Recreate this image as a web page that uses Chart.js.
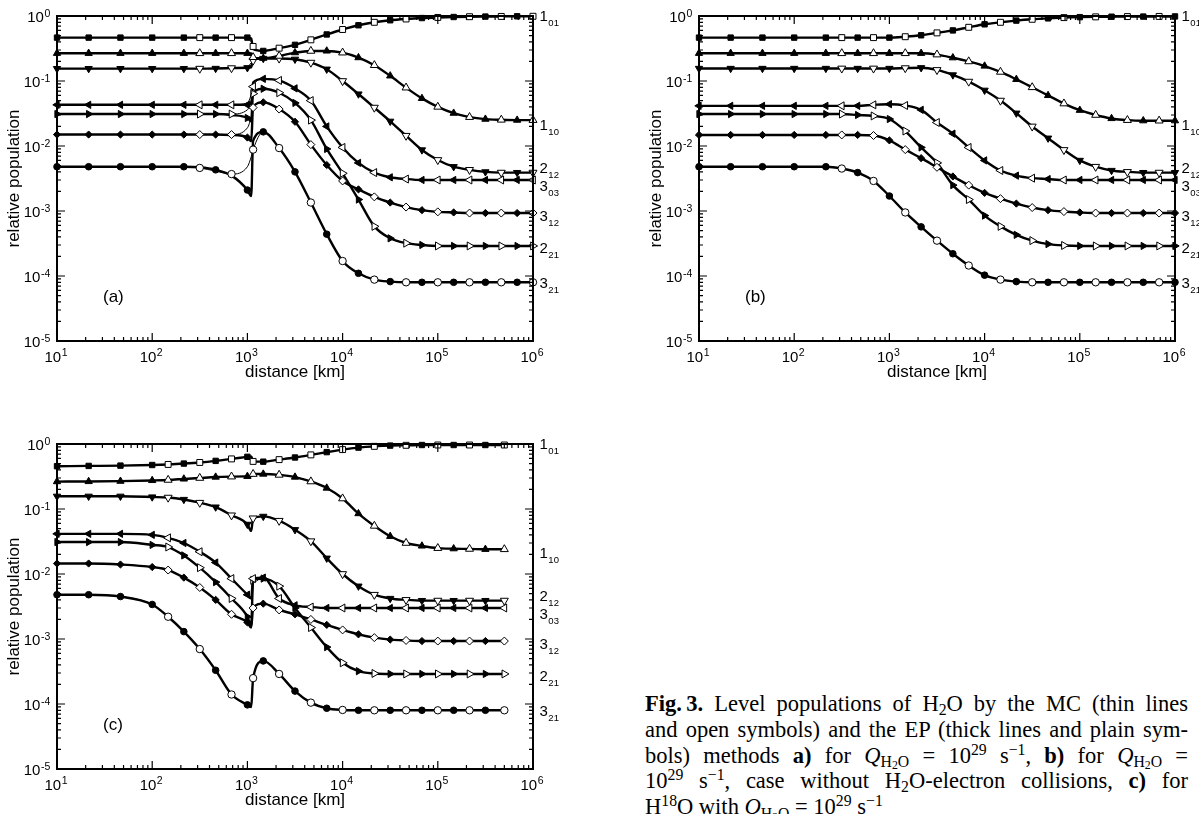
<!DOCTYPE html>
<html>
<head>
<meta charset="utf-8">
<script src="https://cdn.jsdelivr.net/npm/chart.js@4.4.1/dist/chart.umd.min.js"></script>
<style>
  html, body { margin: 0; padding: 0; background: #fff; }
  body { width: 1199px; height: 814px; overflow: hidden; position: relative; }
  canvas { position: absolute; }
  #cap { position: absolute; left: 645px; top: 691px; width: 543px;
         font-family: "Liberation Serif", "Times New Roman", serif; font-size: 22.5px; color: #000; }
  #cap div { height: 25.8px; line-height: 25.8px; text-align: justify; text-align-last: justify; }
  #cap div.last { text-align: left; text-align-last: left; }
  #cap sub { font-size: 0.7em; vertical-align: -0.28em; line-height: 0; }
  #cap sub sub { font-size: 0.75em; vertical-align: -0.2em; }
  #cap sup { font-size: 0.7em; vertical-align: 0.5em; line-height: 0; }
</style>
</head>
<body>
<canvas id="pa" width="600" height="400" style="left:0px;top:0px"></canvas>
<canvas id="pb" width="557" height="400" style="left:642px;top:0px"></canvas>
<canvas id="pc" width="600" height="386" style="left:0px;top:428px"></canvas>
<div id="cap">
  <div><b>Fig.&#8201;3.</b> Level populations of H<sub>2</sub>O by the MC (thin lines</div>
  <div>and open symbols) and the EP (thick lines and plain sym-</div>
  <div>bols) methods <b>a)</b> for <i>Q</i><sub>H<sub>2</sub>O</sub> = 10<sup>29</sup> s<sup>&minus;1</sup>, <b>b)</b> for <i>Q</i><sub>H<sub>2</sub>O</sub> =</div>
  <div>10<sup>29</sup> s<sup>&minus;1</sup>, case without H<sub>2</sub>O-electron collisions, <b>c)</b> for</div>
  <div class="last">H<sup>18</sup>O with <i>Q</i><sub>H<sub>2</sub>O</sub> = 10<sup>29</sup> s<sup>&minus;1</sup></div>
</div>
<script>
// ---- rotational levels (order used by every series block below) ----
const levelMain = ['1', '1', '2', '3', '3', '2', '3'];
const levelSub  = ['01', '10', '12', '03', '12', '21', '21'];
const levelLabelY = [1.0, 0.0215, 4.6e-3, 2.5e-3, 8.5e-4, 2.7e-4, 8.0e-5];

// axis decades (exponents of ten)
const xDecades = [1, 2, 3, 4, 5, 6];
const yDecades = [-5, -4, -3, -2, -1, 0];

// ---- panel (a): Q = 1e29 s^-1 ----
const distA = [10, 21.5, 46.4, 100, 215, 316, 464, 681, 1000, 1096, 1148, 1468, 2154, 3162, 4642, 6813,
  10000, 14678, 21544, 31623, 46416, 68129, 100000, 146780, 215443, 316228, 464159, 681292, 1000000];
const ep101A = [0.465, 0.465, 0.465, 0.465, 0.465, 0.465, 0.465, 0.465, 0.465, 0.45, 0.31, 0.29, 0.32, 0.36, 0.43, 0.52,
  0.62, 0.72, 0.80, 0.86, 0.90, 0.93, 0.95, 0.965, 0.975, 0.98, 0.985, 0.99, 0.99];
const ep110A = [0.267, 0.267, 0.267, 0.267, 0.267, 0.267, 0.267, 0.267, 0.267, 0.265, 0.226, 0.224, 0.243, 0.273, 0.29, 0.29,
  0.273, 0.229, 0.175, 0.12, 0.079, 0.054, 0.040, 0.032, 0.0278, 0.0259, 0.0253, 0.025, 0.025];
const ep212A = [0.155, 0.155, 0.155, 0.155, 0.155, 0.155, 0.156, 0.158, 0.160, 0.162, 0.215, 0.222, 0.222, 0.216, 0.192, 0.152,
  0.100, 0.063, 0.039, 0.024, 0.0144, 0.0087, 0.0061, 0.0048, 0.0043, 0.0040, 0.0039, 0.0039, 0.0039];
const ep303A = [0.043, 0.043, 0.043, 0.043, 0.043, 0.043, 0.043, 0.043, 0.043, 0.044, 0.095, 0.108, 0.102, 0.077, 0.050, 0.020,
  0.0095, 0.0055, 0.0039, 0.0033, 0.0031, 0.0030, 0.0030, 0.0030, 0.0030, 0.0030, 0.0030, 0.0030, 0.0030];
const ep312A = [0.015, 0.015, 0.015, 0.015, 0.015, 0.015, 0.015, 0.0148, 0.0135, 0.0118, 0.040, 0.047, 0.037, 0.0236, 0.0105, 0.0051,
  0.0029, 0.00215, 0.00165, 0.00135, 0.00115, 0.00103, 0.00097, 0.00095, 0.00093, 0.00093, 0.00093, 0.00093, 0.00093];
const ep221A = [0.031, 0.031, 0.031, 0.031, 0.031, 0.031, 0.031, 0.030, 0.027, 0.024, 0.065, 0.076, 0.066, 0.046, 0.025, 0.009,
  0.0038, 0.0015, 5.8e-4, 3.8e-4, 3.2e-4, 3.0e-4, 2.9e-4, 2.9e-4, 2.9e-4, 2.9e-4, 2.9e-4, 2.9e-4, 2.9e-4];
const ep321A = [0.0048, 0.0048, 0.0048, 0.0048, 0.0048, 0.0047, 0.0043, 0.0035, 0.0021, 0.0017, 0.012, 0.0165, 0.0093, 0.0040, 0.00135, 4.4e-4,
  1.7e-4, 1.1e-4, 8.8e-5, 8.2e-5, 8.0e-5, 8.0e-5, 8.0e-5, 8.0e-5, 8.0e-5, 8.0e-5, 8.0e-5, 8.0e-5, 8.0e-5];

const mc101A = [0.465, 0.465, 0.465, 0.465, 0.465, 0.465, 0.465, 0.465, 0.45, 0.40, 0.34, 0.29, 0.32, 0.36, 0.43, 0.52,
  0.62, 0.72, 0.80, 0.86, 0.90, 0.93, 0.95, 0.965, 0.975, 0.98, 0.985, 0.99, 0.99];
const mc110A = [0.267, 0.267, 0.267, 0.267, 0.267, 0.267, 0.267, 0.267, 0.262, 0.245, 0.232, 0.224, 0.243, 0.273, 0.29, 0.29,
  0.273, 0.229, 0.175, 0.12, 0.079, 0.054, 0.040, 0.032, 0.0278, 0.0259, 0.0253, 0.025, 0.025];
const mc212A = [0.155, 0.155, 0.155, 0.155, 0.155, 0.155, 0.156, 0.158, 0.166, 0.19, 0.206, 0.222, 0.222, 0.216, 0.192, 0.152,
  0.100, 0.063, 0.039, 0.024, 0.0144, 0.0087, 0.0061, 0.0048, 0.0043, 0.0040, 0.0039, 0.0039, 0.0039];
const mc303A = [0.043, 0.043, 0.043, 0.043, 0.043, 0.043, 0.043, 0.043, 0.046, 0.062, 0.082, 0.108, 0.102, 0.077, 0.050, 0.020,
  0.0095, 0.0055, 0.0039, 0.0033, 0.0031, 0.0030, 0.0030, 0.0030, 0.0030, 0.0030, 0.0030, 0.0030, 0.0030];
const mc312A = [0.015, 0.015, 0.015, 0.015, 0.015, 0.015, 0.015, 0.015, 0.019, 0.028, 0.039, 0.047, 0.037, 0.0236, 0.0105, 0.0051,
  0.0029, 0.00215, 0.00165, 0.00135, 0.00115, 0.00103, 0.00097, 0.00095, 0.00093, 0.00093, 0.00093, 0.00093, 0.00093];
const mc221A = [0.031, 0.031, 0.031, 0.031, 0.031, 0.031, 0.031, 0.031, 0.036, 0.050, 0.064, 0.076, 0.066, 0.046, 0.025, 0.009,
  0.0038, 0.0015, 5.8e-4, 3.8e-4, 3.2e-4, 3.0e-4, 2.9e-4, 2.9e-4, 2.9e-4, 2.9e-4, 2.9e-4, 2.9e-4, 2.9e-4];
const mc321A = [0.0048, 0.0048, 0.0048, 0.0048, 0.0048, 0.0046, 0.0041, 0.0037, 0.0048, 0.0068, 0.0088, 0.0165, 0.0093, 0.0040, 0.00135, 4.4e-4,
  1.7e-4, 1.1e-4, 8.8e-5, 8.2e-5, 8.0e-5, 8.0e-5, 8.0e-5, 8.0e-5, 8.0e-5, 8.0e-5, 8.0e-5, 8.0e-5, 8.0e-5];

const epMarksA = [10, 21.5, 46.4, 100, 215, 464, 1000, 1468, 3162, 6813, 14678, 31623, 68129, 146780, 316228, 681292];
const mcMarksA = [316, 681, 1148, 2154, 4642, 10000, 21544, 46416, 100000, 215443, 464159, 1000000];

// ---- panel (b): no H2O-electron collisions ----
const distB = [10, 21.5, 46.4, 100, 215, 316, 464, 681, 1000, 1468, 2154, 3162, 4642, 6813,
  10000, 14678, 21544, 31623, 46416, 68129, 100000, 146780, 215443, 316228, 464159, 681292, 1000000];
const ep101B = [0.465, 0.465, 0.465, 0.465, 0.465, 0.465, 0.465, 0.465, 0.465, 0.48, 0.505, 0.55, 0.60, 0.67,
  0.745, 0.80, 0.85, 0.89, 0.92, 0.945, 0.96, 0.97, 0.975, 0.98, 0.98, 0.985, 0.985];
const ep110B = [0.267, 0.267, 0.267, 0.267, 0.267, 0.267, 0.267, 0.267, 0.267, 0.267, 0.267, 0.255, 0.228, 0.20,
  0.170, 0.138, 0.106, 0.080, 0.060, 0.045, 0.0355, 0.030, 0.0265, 0.025, 0.0245, 0.0245, 0.0245];
const ep212B = [0.156, 0.156, 0.156, 0.156, 0.156, 0.156, 0.156, 0.156, 0.156, 0.158, 0.160, 0.148, 0.124, 0.098,
  0.072, 0.050, 0.032, 0.020, 0.0132, 0.0087, 0.0060, 0.0048, 0.0042, 0.0040, 0.0039, 0.0039, 0.0039];
const ep303B = [0.0415, 0.0415, 0.0415, 0.0415, 0.0415, 0.0415, 0.0415, 0.043, 0.044, 0.042, 0.036, 0.023, 0.0155, 0.0095,
  0.0060, 0.0042, 0.0035, 0.0032, 0.0031, 0.0030, 0.0030, 0.0030, 0.0030, 0.0030, 0.0030, 0.0030, 0.0030];
const ep312B = [0.0148, 0.0148, 0.0148, 0.0148, 0.0148, 0.0148, 0.0148, 0.0145, 0.0122, 0.0088, 0.0065, 0.0047, 0.0034, 0.0025,
  0.0019, 0.00155, 0.0013, 0.00113, 0.00103, 0.00098, 0.00095, 0.00093, 0.00093, 0.00093, 0.00093, 0.00093, 0.00093];
const ep221B = [0.031, 0.031, 0.031, 0.031, 0.031, 0.031, 0.030, 0.029, 0.026, 0.017, 0.0095, 0.0055, 0.0025, 0.0015,
  8.5e-4, 5.8e-4, 4.3e-4, 3.5e-4, 3.1e-4, 2.95e-4, 2.9e-4, 2.9e-4, 2.9e-4, 2.9e-4, 2.9e-4, 2.9e-4, 2.9e-4];
const ep321B = [0.0048, 0.0048, 0.0048, 0.0048, 0.0048, 0.0045, 0.0039, 0.0029, 0.0017, 9.5e-4, 5.7e-4, 3.5e-4, 2.2e-4, 1.45e-4,
  1.03e-4, 8.8e-5, 8.2e-5, 8.0e-5, 8.0e-5, 8.0e-5, 8.0e-5, 8.0e-5, 8.0e-5, 8.0e-5, 8.0e-5, 8.0e-5, 8.0e-5];

const epMarksB = [10, 21.5, 46.4, 100, 215, 464, 1000, 2154, 4642, 10000, 21544, 46416, 100000, 215443, 464159, 1000000];
const mcMarksB = [316, 681, 1468, 3162, 6813, 14678, 31623, 68129, 146780, 316228, 681292];

// ---- panel (c): H2-18O ----
const distC = [10, 21.5, 46.4, 100, 147, 215, 316, 464, 681, 1000, 1096, 1148, 1468, 2154, 3162, 4642, 6813,
  10000, 14678, 21544, 31623, 46416, 68129, 100000, 146780, 215443, 316228, 500000];
const ep101C = [0.455, 0.46, 0.465, 0.475, 0.485, 0.50, 0.52, 0.55, 0.59, 0.635, 0.645, 0.54, 0.535, 0.575, 0.62, 0.68, 0.75,
  0.82, 0.88, 0.92, 0.945, 0.955, 0.965, 0.965, 0.965, 0.965, 0.965, 0.965];
const ep110C = [0.264, 0.265, 0.268, 0.275, 0.28, 0.29, 0.30, 0.31, 0.315, 0.318, 0.32, 0.345, 0.345, 0.335, 0.31, 0.265, 0.21,
  0.145, 0.085, 0.055, 0.038, 0.030, 0.027, 0.025, 0.0245, 0.0243, 0.024, 0.024];
const ep212C = [0.157, 0.157, 0.157, 0.153, 0.150, 0.140, 0.125, 0.107, 0.080, 0.058, 0.046, 0.072, 0.077, 0.066, 0.048, 0.032, 0.0175,
  0.0100, 0.0065, 0.0048, 0.0042, 0.0040, 0.0039, 0.0039, 0.0039, 0.0039, 0.0039, 0.0039];
const ep303C = [0.0415, 0.0415, 0.0415, 0.040, 0.036, 0.030, 0.022, 0.015, 0.0085, 0.0048, 0.0042, 0.0085, 0.0088, 0.0042, 0.0033, 0.0031, 0.0030,
  0.0030, 0.0030, 0.0030, 0.0030, 0.0030, 0.0030, 0.0030, 0.0030, 0.0030, 0.0030, 0.0030];
const ep312C = [0.0145, 0.0145, 0.014, 0.0128, 0.0115, 0.0088, 0.0062, 0.0040, 0.0024, 0.0018, 0.0015, 0.0030, 0.0035, 0.0028, 0.0024, 0.0020, 0.00165,
  0.00138, 0.00118, 0.00105, 0.00098, 0.00095, 0.00093, 0.00093, 0.00093, 0.00093, 0.00093, 0.00093];
const ep221C = [0.031, 0.031, 0.031, 0.028, 0.026, 0.0193, 0.0125, 0.0075, 0.0042, 0.0022, 0.0016, 0.0080, 0.0085, 0.0065, 0.0030, 0.0015, 7.5e-4,
  4.3e-4, 3.2e-4, 2.95e-4, 2.9e-4, 2.9e-4, 2.9e-4, 2.9e-4, 2.9e-4, 2.9e-4, 2.9e-4, 2.9e-4];
const ep321C = [0.0048, 0.0048, 0.0045, 0.0034, 0.0022, 0.0013, 7.0e-4, 3.3e-4, 1.4e-4, 9.7e-5, 9.0e-5, 2.5e-4, 4.6e-4, 2.9e-4, 1.58e-4, 1.05e-4, 8.6e-5,
  8.1e-5, 8.0e-5, 8.0e-5, 8.0e-5, 8.0e-5, 8.0e-5, 8.0e-5, 8.0e-5, 8.0e-5, 8.0e-5, 8.0e-5];

const epMarksC = [10, 21.5, 46.4, 100, 215, 464, 1000, 1468, 3162, 6813, 14678, 31623, 68129, 146780, 316228];
const mcMarksC = [147, 316, 681, 1148, 2154, 4642, 10000, 21544, 46416, 100000, 215443, 500000];

// ---- drawing ----
const SANS = '"Liberation Sans", Arial, Helvetica, sans-serif';
const INK = '#000';

// symbol per level: square, up/down/left triangle, diamond, right triangle, circle
const markStyle = [
  { s: 'rect', rot: 0, r: 3.8 },
  { s: 'triangle', rot: 0, r: 4.2 },
  { s: 'triangle', rot: 180, r: 4.2 },
  { s: 'triangle', rot: 270, r: 4.2 },
  { s: 'rectRot', rot: 0, r: 3.6 },
  { s: 'triangle', rot: 90, r: 4.2 },
  { s: 'circle', rot: 0, r: 3.3 }
];

function drawPow(ctx, exp, x, y, align) {
  ctx.font = '15px ' + SANS;
  const wb = ctx.measureText('10').width;
  ctx.font = '10.5px ' + SANS;
  const we = ctx.measureText(exp).width;
  const x0 = align === 'right' ? x - wb - we - 0.5 : x - (wb + we + 0.5) / 2;
  ctx.textAlign = 'left';
  ctx.textBaseline = 'alphabetic';
  ctx.font = '15px ' + SANS;
  ctx.fillText('10', x0, y);
  ctx.font = '10.5px ' + SANS;
  ctx.fillText(exp, x0 + wb + 0.5, y - 5.5);
}

const frameTicks = {
  id: 'frameTicks',
  afterDraw(chart, args, opts) {
    const { ctx, chartArea: a } = chart;
    const x = chart.scales.x, y = chart.scales.y;
    ctx.save();
    ctx.strokeStyle = INK;
    ctx.fillStyle = INK;

    // inward ticks on all four sides
    ctx.lineWidth = 1.2;
    ctx.beginPath();
    xDecades.forEach((e, i) => {
      const px = x.getPixelForValue(Math.pow(10, e));
      ctx.moveTo(px, a.bottom); ctx.lineTo(px, a.bottom - 8);
      ctx.moveTo(px, a.top); ctx.lineTo(px, a.top + 8);
      if (i < xDecades.length - 1) {
        for (let m = 2; m <= 9; m++) {
          const q = x.getPixelForValue(m * Math.pow(10, e));
          ctx.moveTo(q, a.bottom); ctx.lineTo(q, a.bottom - 4);
          ctx.moveTo(q, a.top); ctx.lineTo(q, a.top + 4);
        }
      }
    });
    yDecades.forEach((e, i) => {
      const py = y.getPixelForValue(Math.pow(10, e));
      ctx.moveTo(a.left, py); ctx.lineTo(a.left + 8, py);
      ctx.moveTo(a.right, py); ctx.lineTo(a.right - 8, py);
      if (i < yDecades.length - 1) {
        for (let m = 2; m <= 9; m++) {
          const q = y.getPixelForValue(m * Math.pow(10, e));
          ctx.moveTo(a.left, q); ctx.lineTo(a.left + 4, q);
          ctx.moveTo(a.right, q); ctx.lineTo(a.right - 4, q);
        }
      }
    });
    ctx.stroke();

    // frame
    ctx.lineWidth = 2;
    ctx.strokeRect(a.left, a.top, a.right - a.left, a.bottom - a.top);

    // tick labels
    xDecades.forEach(e => {
      drawPow(ctx, String(e), x.getPixelForValue(Math.pow(10, e)) - 1, a.bottom + 20.7, 'center');
    });
    yDecades.forEach(e => {
      drawPow(ctx, String(e), a.left - 6.7, y.getPixelForValue(Math.pow(10, e)) + 6, 'right');
    });

    // axis titles
    ctx.font = '17px ' + SANS;
    ctx.textAlign = 'center';
    ctx.textBaseline = 'alphabetic';
    ctx.fillText('distance [km]', (a.left + a.right) / 2, a.bottom + 36);
    ctx.save();
    ctx.translate(a.left - 43, (a.top + a.bottom) / 2);
    ctx.rotate(-Math.PI / 2);
    ctx.textBaseline = 'middle';
    ctx.fillText('relative population', 0, 0);
    ctx.restore();

    // panel tag
    ctx.font = '17px ' + SANS;
    ctx.textAlign = 'left';
    ctx.textBaseline = 'alphabetic';
    ctx.fillText(opts.tag, a.left + 46, a.top + 285.7);

    // level names at the right edge
    levelMain.forEach((m, k) => {
      const py = y.getPixelForValue(levelLabelY[k]);
      const lx = a.right + 6.5;
      ctx.font = '15px ' + SANS;
      ctx.fillText(m, lx, py + 5.4);
      const w = ctx.measureText(m).width;
      ctx.font = '9.5px ' + SANS;
      ctx.fillText(levelSub[k], lx + w + 0.5, py + 10.4);
    });
    ctx.restore();
  }
};

function buildSets(dist, epRows, mcRows, epMarks, mcMarks) {
  const sets = [];
  epRows.forEach((row, k) => {
    const st = markStyle[k];
    sets.push({
      data: row, order: 2, borderColor: INK, borderWidth: 2.4, fill: false,
      cubicInterpolationMode: 'monotone', clip: false,
      pointStyle: st.s, pointRotation: st.rot,
      pointRadius: c => (epMarks.includes(dist[c.dataIndex]) ? st.r : 0),
      pointHoverRadius: 0, pointHitRadius: 0,
      pointBackgroundColor: INK, pointBorderColor: INK, pointBorderWidth: 1
    });
  });
  mcRows.forEach((row, k) => {
    const st = markStyle[k];
    sets.push({
      data: row, order: 1, borderColor: INK, borderWidth: 1, fill: false,
      cubicInterpolationMode: 'monotone', clip: false,
      pointStyle: st.s, pointRotation: st.rot,
      pointRadius: c => (mcMarks.includes(dist[c.dataIndex]) ? st.r + 0.4 : 0),
      pointHoverRadius: 0, pointHitRadius: 0,
      pointBackgroundColor: '#fff', pointBorderColor: INK, pointBorderWidth: 1
    });
  });
  return sets;
}

function panel(id, tag, dist, epRows, mcRows, epMarks, mcMarks) {
  const cv = document.getElementById(id);
  return new Chart(cv, {
    type: 'line',
    data: { labels: dist, datasets: buildSets(dist, epRows, mcRows, epMarks, mcMarks) },
    options: {
      responsive: false, maintainAspectRatio: false, animation: false, devicePixelRatio: 1,
      events: [],
      layout: { padding: { left: 57, top: 16, right: cv.width - 533, bottom: cv.height - 341 } },
      scales: {
        x: { type: 'logarithmic', min: 10, max: 1e6, display: false },
        y: { type: 'logarithmic', min: 1e-5, max: 1, display: false }
      },
      plugins: { legend: { display: false }, tooltip: { enabled: false }, frameTicks: { tag: tag } }
    },
    plugins: [frameTicks]
  });
}

panel('pa', '(a)', distA,
  [ep101A, ep110A, ep212A, ep303A, ep312A, ep221A, ep321A],
  [mc101A, mc110A, mc212A, mc303A, mc312A, mc221A, mc321A],
  epMarksA, mcMarksA);
// MC and EP curves coincide in (b) and (c)
panel('pb', '(b)', distB,
  [ep101B, ep110B, ep212B, ep303B, ep312B, ep221B, ep321B],
  [ep101B, ep110B, ep212B, ep303B, ep312B, ep221B, ep321B],
  epMarksB, mcMarksB);
panel('pc', '(c)', distC,
  [ep101C, ep110C, ep212C, ep303C, ep312C, ep221C, ep321C],
  [ep101C, ep110C, ep212C, ep303C, ep312C, ep221C, ep321C],
  epMarksC, mcMarksC);
</script>
</body>
</html>
